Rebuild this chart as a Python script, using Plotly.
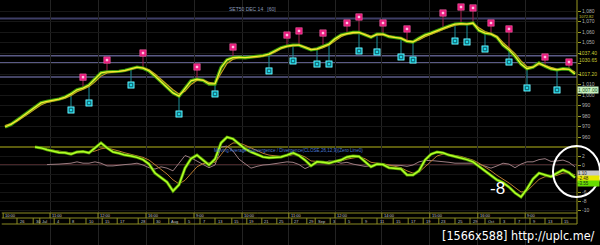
import plotly.graph_objects as go

# ---------------- data ----------------
price = [969.5, 972, 976, 980, 984, 988.5, 992.5, 994, 995, 996, 998, 1001, 1005, 1006.5, 1009.5, 1015,
         1021, 1022, 1022, 1022.5, 1023.5, 1025, 1026.5, 1025.5, 1023, 1018, 1012.5, 1007.5, 1002, 999,
         1006.5, 1013.5, 1015, 1014, 1010.5, 1010.5, 1026, 1033.5, 1035.5, 1036, 1035.5, 1036, 1036.5,
         1037.5, 1039, 1042, 1045, 1046.5, 1047.5, 1047.5, 1045, 1043, 1044, 1046, 1048.5, 1053.5, 1057,
         1058.5, 1059.5, 1059.5, 1057, 1055, 1058, 1058, 1055.5, 1054.5, 1054, 1051, 1050.5, 1054, 1057,
         1059, 1061.5, 1063.5, 1065.5, 1067.5, 1068, 1067.5, 1068.5, 1061.5, 1059, 1058, 1055, 1047.5,
         1043, 1037, 1029.5, 1025, 1026.5, 1030.5, 1027.5, 1025, 1024, 1025, 1024.5, 1020]
ma_fast = [971, 972.5, 975, 978.5, 982.5, 986.5, 990.5, 993, 994.5, 995.5, 997, 999.5, 1003, 1005.5, 1008,
           1012.5, 1018, 1021, 1022, 1022.5, 1023, 1024.5, 1026, 1026, 1024, 1020, 1015, 1010, 1005, 1001,
           1003.5, 1010, 1014, 1014.5, 1012, 1011, 1020, 1030, 1034, 1035.5, 1035.5, 1035.5, 1036, 1037,
           1038.5, 1041, 1044, 1046, 1047, 1047.5, 1046, 1044, 1043.5, 1045, 1047.5, 1051.5, 1055.5, 1058,
           1059, 1059.5, 1058, 1056, 1057, 1057.5, 1056.5, 1055, 1054.5, 1052, 1051, 1052.5, 1055.5, 1058,
           1060.5, 1062.5, 1064.5, 1066.5, 1067.5, 1067.5, 1068, 1064, 1060.5, 1058.5, 1056, 1050, 1045,
           1039.5, 1032.5, 1027, 1026.5, 1029, 1028, 1026, 1024.5, 1024.5, 1024.5, 1022]

macd = [None] * 5 + [4.0, 3.8, 3.4, 3.1, 2.8, 2.7, 2.4, 2.9, 3.0, 2.7,
                     3.8, 4.9, 3.8, 2.9, 2.6, 2.2, 2.0, 1.7, 1.2, 0.2,
                     -1.8, -2.9, -3.8, -5.8, -4.4, -0.7, 1.4, 2.2, 1.1, 0.0,
                     1.3, 4.9, 6.2, 5.8, 4.7, 3.6, 2.9, 2.3, 1.8, 1.6,
                     1.7, 1.8, 2.2, 2.7, 2.1, 1.1, -0.2, 0.7, 0.6, 0.4,
                     0.8, 1.1, 1.8, 2.0, 1.9, 0.7, -0.4, 0.2, 0.1, -0.6,
                     -0.7, -0.9, -2.2, -2.2, -1.3, 1.1, 2.4, 2.9, 2.7, 2.2,
                     1.9, 1.6, 1.2, 0.7, -0.3, -1.2, -2.2, -3.3, -3.9, -4.9,
                     -6.2, -7.1, -5.3, -3.1, -1.8, -2.2, -2.6, -1.8, -1.1, -1.7, -2.8]
signal = [None] * 6 + [3.6, 3.5, 3.3, 3.1, 2.9, 2.7, 2.7, 2.8, 2.8,
                       3.1, 3.6, 3.8, 3.5, 3.1, 2.7, 2.4, 2.1, 1.7, 1.1,
                       0.1, -1.0, -2.0, -3.3, -4.2, -3.4, -1.8, -0.4, 0.3, 0.4,
                       0.6, 2.3, 4.0, 4.9, 4.9, 4.4, 3.8, 3.2, 2.6, 2.2,
                       2.0, 1.9, 2.0, 2.3, 2.3, 1.8, 0.9, 0.8, 0.7, 0.6,
                       0.7, 0.9, 1.3, 1.6, 1.8, 1.4, 0.6, 0.4, 0.3, 0.0,
                       -0.3, -0.6, -1.3, -1.8, -1.6, -0.4, 1.0, 2.0, 2.4, 2.4,
                       2.1, 1.9, 1.5, 1.1, 0.4, -0.4, -1.3, -2.3, -3.1, -4.0,
                       -5.0, -6.0, -5.8, -4.5, -3.2, -2.6, -2.6, -2.3, -1.8, -1.7, -2.2]
diff_line = [None] * 7 + [0.1, 0.1, 0.2, 0.3, 0.4, 0.7, 0.4, 0.4,
                          0.7, 0.4, -0.2, -0.2, 0, 0.1, 0.2, 0.4, 0, -0.6,
                          -0.9, -0.4, -0.7, -1.3, 0.4, 2.1, 1.6, 0.9, 0.2, -0.6,
                          0, 4.0, 4.2, 3.1, 1.3, 0.2, -0.7, -0.3, 0, 0.1,
                          0.3, 0.4, 0.7, 0.6, 0.1, -0.8, -0.2, 0.7, 0.4, 0.9,
                          0.8, 0.4, 0.6, 0.2, 0, -0.3, -0.2, 0, 0, 0,
                          0, -0.1, -0.3, 0, 0.7, 1.0, 1.0, 0.9, 0.7, 0.6,
                          0.4, 0.4, 0.4, 0.4, 0.2, -0.2, -0.7, -0.2, 0.4, 0.2,
                          -0.6, 0.2, 0.7, 0.7, 1.2, 1.4, 0.8, 0.9, 1.1, 0.6, -0.4]

sell_bars = [13, 17, 23, 32, 38, 47, 49, 53, 57, 59, 63, 67, 73, 76, 78, 81, 84, 90, 94]
sell_levels = [1017, 1033.3, 1040, 1026.7, 1045.7, 1057.1, 1061, 1059, 1068.6, 1074.3, 1068.6, 1062.9,
               1078.1, 1083.8, 1082.9, 1068.6, 1062.9, 1036.2, 1031.4]
buy_bars = [11, 14, 21, 29, 35, 44, 48, 52, 54, 59, 62, 66, 68, 75, 77, 80, 84, 87, 92]
buy_levels = [985.7, 992.4, 1009.5, 981.9, 1001, 1022.9, 1032.4, 1029.5, 1029.5, 1041.9, 1041, 1036.2,
              1033.3, 1051.4, 1050.5, 1043.8, 1031.4, 1006.7, 1004.8]

price_levels = [1072.82, 1037.40, 1030.65, 1017.20]
last_price_label = 1007.00
macd_value_labels = ["1.10", "-2.48", "-3.55"]

hour_bars = [-0.3, 7.5, 15.5, 23.5, 31.5, 39.5, 47.3, 55, 62.8, 70.8, 78.8, 86.7]
hour_labels = ["10:00", "11:00", "12:00", "16:00", "9:00", "10:00", "11:00", "12:00",
               "14:00", "15:00", "16:00", "9:00"]
day_bars = [2.0, 4.7, 5.8, 8.2, 10.8, 13.5, 16.2, 18.7, 22.2, 24.8, 27.3, 30, 32.5, 35, 37.8, 40.3,
            42.8, 45.3, 47.8, 50.3, 51.7, 54.2, 56.7, 59.5, 62, 64.7, 67.2, 69.7, 72.3, 75, 77.5, 80,
            82.5, 85, 87.5, 90, 92.8]
day_labels = ["26", "30", "Jul", "4", "8", "10", "15", "17", "28", "30", "Aug", "5", "7", "13", "15",
              "19", "21", "25", "27", "29", "Sep", "3", "5", "9", "11", "15", "17", "19", "23", "25",
              "29", "Oct", "3", "7", "9", "13", "15"]
price_ticks = list(range(960, 1081, 10))
price_hidden = [1020, 1030, 1040]          # covered by the level labels in the picture
macd_ticks = [2, 0, -2, -4, -6, -8, -10]
macd_hidden = [-2, -4]                     # covered by the value boxes in the picture

# ---------------- figure ----------------
W, H = 600, 245
PLOT_W = 577
bars = list(range(len(price)))
x0 = -5 / 6
X_RANGE = [x0, x0 + PLOT_W / 6]
Y_RANGE = [1080 - 234 / 1.05, 1080 + 11 / 1.05]
Y2_RANGE = [165 / 4.5 - 245 / 4.5, 165 / 4.5]


def py(px):
    return 1 - px / H


fig = go.Figure()

# signal stems
sx, sy = [], []
for b, lv in zip(sell_bars, sell_levels):
    sx += [b, b, None]
    sy += [lv, price[b], None]
fig.add_trace(go.Scatter(x=sx, y=sy, mode="lines", line=dict(color="#a0204a", width=1), hoverinfo="skip"))
bx, byy = [], []
for b, lv in zip(buy_bars, buy_levels):
    bx += [b, b, None]
    byy += [lv, price[b], None]
fig.add_trace(go.Scatter(x=bx, y=byy, mode="lines", line=dict(color="#1f8f98", width=1), hoverinfo="skip"))

# price lines
fig.add_trace(go.Scatter(x=bars, y=price, mode="lines", line=dict(color="#3a9e0a", width=3.4),
                         hoverinfo="skip"))
fig.add_trace(go.Scatter(x=bars, y=ma_fast, mode="lines", line=dict(color="#c8a020", width=1.1),
                         hoverinfo="skip"))
fig.add_trace(go.Scatter(x=bars, y=price, mode="lines", line=dict(color="#f0f030", width=1.3),
                         hoverinfo="skip"))

# markers
fig.add_trace(go.Scatter(x=sell_bars, y=sell_levels, mode="markers",
                         marker=dict(symbol="square", size=6.5, color="#e8187c",
                                     line=dict(color="#ff70b0", width=0.5)), hoverinfo="skip"))
fig.add_trace(go.Scatter(x=sell_bars, y=sell_levels, mode="markers",
                         marker=dict(symbol="square", size=2.5, color="#ffc0e0"), hoverinfo="skip"))
fig.add_trace(go.Scatter(x=buy_bars, y=buy_levels, mode="markers",
                         marker=dict(symbol="square", size=6.5, color="#22d6e6",
                                     line=dict(color="#90f0f8", width=0.5)), hoverinfo="skip"))
fig.add_trace(go.Scatter(x=buy_bars, y=buy_levels, mode="markers",
                         marker=dict(symbol="square-open", size=3.5, color="#0c5a66",
                                     line=dict(width=1)), hoverinfo="skip"))

# MACD panel
fig.add_trace(go.Scatter(x=bars, y=diff_line, yaxis="y2", mode="lines",
                         line=dict(color="#9a7c80", width=1), hoverinfo="skip"))
fig.add_trace(go.Scatter(x=bars, y=signal, yaxis="y2", mode="lines",
                         line=dict(color="#b87a30", width=1), hoverinfo="skip"))
fig.add_trace(go.Scatter(x=bars, y=macd, yaxis="y2", mode="lines",
                         line=dict(color="#4f9a00", width=3), hoverinfo="skip"))
fig.add_trace(go.Scatter(x=bars, y=macd, yaxis="y2", mode="lines",
                         line=dict(color="#b4ff28", width=1.5), hoverinfo="skip"))

shapes = []
for i, lv in enumerate(price_levels):
    shapes.append(dict(type="line", xref="paper", x0=0, x1=1, yref="y", y0=lv, y1=lv,
                       line=dict(color="#3e3e66" if i == 0 else "#5a5a86", width=2 if i == 0 else 1.5),
                       layer="below"))
shapes.append(dict(type="line", xref="paper", x0=0, x1=1, yref="y2", y0=0, y1=0,
                   line=dict(color="#8a4a50", width=1), layer="below"))
shapes.append(dict(type="line", xref="paper", x0=0, x1=1, yref="y2", y0=4, y1=4,
                   line=dict(color="#7a7a12", width=1.5), layer="below"))
shapes.append(dict(type="line", xref="paper", x0=1, x1=1, yref="paper", y0=py(224), y1=1,
                   line=dict(color="#9a9a20", width=1)))
for ypx in (213, 218, 224):
    shapes.append(dict(type="line", xref="paper", x0=0.003, x1=1, yref="paper", y0=py(ypx), y1=py(ypx),
                       line=dict(color="#8a8a22", width=1)))
for b in hour_bars:
    shapes.append(dict(type="line", xref="x", x0=b, x1=b, yref="paper", y0=py(218), y1=py(213),
                       line=dict(color="#8a8a22", width=1)))
for b in day_bars:
    shapes.append(dict(type="line", xref="x", x0=b, x1=b, yref="paper", y0=py(224), y1=py(218),
                       line=dict(color="#8a8a22", width=1)))
shapes.append(dict(type="circle", xref="paper", yref="paper", x0=553 / PLOT_W, x1=600 / PLOT_W,
                   y0=py(197), y1=py(146), line=dict(color="white", width=2)))

ann = []
tiny = dict(family="Liberation Sans, Arial", size=4, color="#c8c8c8")
for b, t in zip(hour_bars, hour_labels):
    ann.append(dict(x=b, xref="x", y=py(215.5), yref="paper", text=t, showarrow=False, borderpad=0,
                    xanchor="left", yanchor="middle", xshift=1, font=tiny))
for b, t in zip(day_bars, day_labels):
    ann.append(dict(x=b, xref="x", y=py(221), yref="paper", text=t, showarrow=False, borderpad=0,
                    xanchor="left", yanchor="middle", xshift=1.5, font=tiny))
for i, lv in enumerate(price_levels):
    ann.append(dict(x=1, xref="paper", y=lv, yref="y", text=f"{lv:.2f}", showarrow=False, borderpad=0,
                    xanchor="left", yanchor="middle", xshift=1, yshift=1.8 if i == 0 else 2.5,
                    font=dict(family="Liberation Sans, Arial", size=4 if i == 0 else 5,
                              color="#c8c832")))
ann.append(dict(x=1, xref="paper", y=last_price_label, yref="y", text=f"{last_price_label:,.2f}",
                showarrow=False, xanchor="left", yanchor="middle", xshift=0, yshift=-2.3,
                bgcolor="#c8f0c0", borderpad=0,
                font=dict(family="Liberation Sans, Arial", size=5, color="#205020")))
box_cols = ["#c8c8c8", "#e8e800", "#66dd00"]
box_vals = [-1.8, -2.9, -4.0]
for t, c, v in zip(macd_value_labels, box_cols, box_vals):
    ann.append(dict(x=1, xref="paper", y=v, yref="y2", text=t, showarrow=False, xanchor="left",
                    yanchor="middle", bgcolor=c, borderpad=0, width=21, align="left",
                    font=dict(family="Liberation Sans, Arial", size=4.5, color="#202020")))
ann.append(dict(x=252 / PLOT_W, xref="paper", y=py(5), yref="paper", text="SET50 DEC 14   [60]",
                showarrow=False, borderpad=0,
                font=dict(family="Liberation Sans, Arial", size=5, color="#8a9ab8")))
ann.append(dict(x=213 / PLOT_W, xref="paper", y=py(150.5), yref="paper", xanchor="left", borderpad=0,
                text="Moving Average Convergence / Divergence(CLOSE,26,12,9)(Zero Line0)",
                showarrow=False, font=dict(family="Liberation Sans, Arial", size=4.6, color="#4a78d0")))
ann.append(dict(x=507 / PLOT_W, xref="paper", y=py(200), yref="paper", text="-8", showarrow=False,
                font=dict(family="Liberation Sans, Arial", size=17, color="white")))
ann.append(dict(x=596 / PLOT_W, xref="paper", y=0, yref="paper", xanchor="right", yanchor="bottom",
                yshift=1, text="[1566x588] http://uplc.me/", showarrow=False, borderpad=0,
                font=dict(family="DejaVu Sans Condensed, Liberation Sans Narrow, Arial", size=12.5,
                          color="white")))

fig.update_layout(
    width=W, height=H, margin=dict(l=0, r=W - PLOT_W, t=0, b=0, pad=0),
    paper_bgcolor="black", plot_bgcolor="black", showlegend=False,
    xaxis=dict(range=X_RANGE, showticklabels=False, tickvals=hour_bars[1:], showgrid=True,
               gridcolor="#232323", gridwidth=1, zeroline=False, ticks="", fixedrange=True),
    yaxis=dict(range=Y_RANGE, side="right", tickvals=price_ticks,
               ticktext=["" if v in price_hidden else f"{v:,}" for v in price_ticks],
               ticks="outside", ticklen=3, tickcolor="#9a9a20", showgrid=True, gridcolor="#171717",
               zeroline=False, tickfont=dict(family="Liberation Sans, Arial", size=5, color="#b0b0b0"),
               fixedrange=True),
    yaxis2=dict(range=Y2_RANGE, overlaying="y", side="right", tickvals=macd_ticks,
                ticktext=["" if v in macd_hidden else str(v) for v in macd_ticks],
                ticks="outside", ticklen=3, tickcolor="#9a9a20", showgrid=True, gridcolor="#151515",
                zeroline=False, tickfont=dict(family="Liberation Sans, Arial", size=5, color="#b0b0b0"),
                fixedrange=True),
    shapes=shapes, annotations=ann,
)

fig.write_html("out.html")
